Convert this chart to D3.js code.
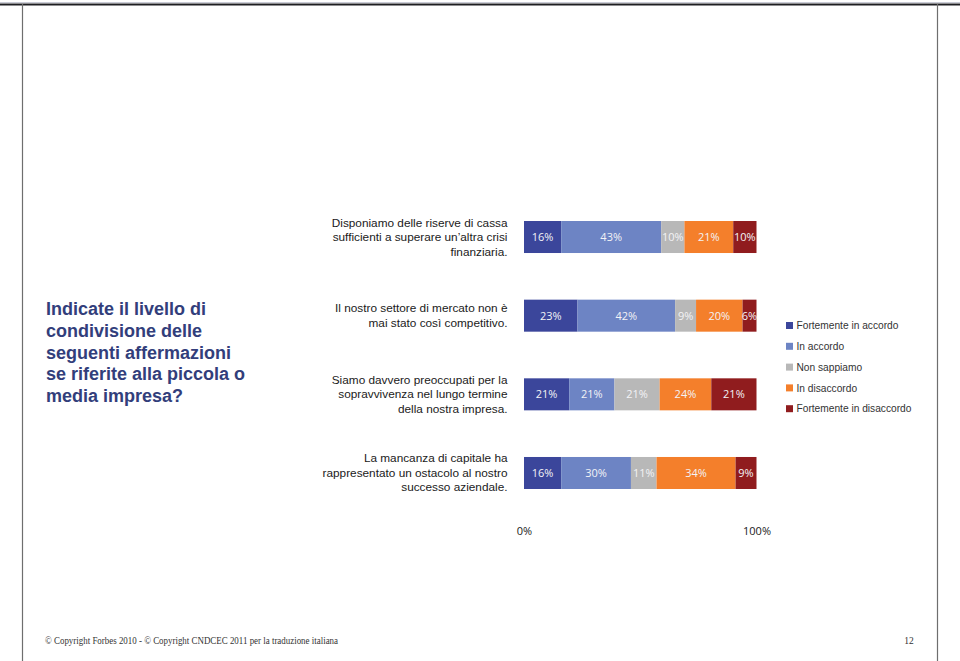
<!DOCTYPE html>
<html>
<head>
<meta charset="utf-8">
<script src="https://cdn.jsdelivr.net/npm/d3@7"></script>
<style>
  html, body { margin: 0; padding: 0; background: #fff; }
  svg { display: block; }
</style>
</head>
<body>
<svg id="chart" width="960" height="661"></svg>
<script>
// ---------- DATA ----------
const categories = [
  "Disponiamo delle riserve di cassa|sufficienti a superare un’altra crisi|finanziaria.",
  "Il nostro settore di mercato non è|mai stato così competitivo.",
  "Siamo davvero preoccupati per la|sopravvivenza nel lungo termine|della nostra impresa.",
  "La mancanza di capitale ha|rappresentato un ostacolo al nostro|successo aziendale."
];
const seriesNames = ["Fortemente in accordo", "In accordo", "Non sappiamo", "In disaccordo", "Fortemente in disaccordo"];
const fortementeInAccordo    = [16, 23, 21, 16];
const inAccordo              = [43, 42, 21, 30];
const nonSappiamo            = [10, 9, 21, 11];
const inDisaccordo           = [21, 20, 24, 34];
const fortementeInDisaccordo = [10, 6, 21, 9];
const axisTickValues = [0, 1];
const axisTickLabels = ["0%", "100%"];
const titleLines = ["Indicate il livello di", "condivisione delle", "seguenti affermazioni", "se riferite alla piccola o", "media impresa?"];
const footerText = "© Copyright Forbes 2010 - © Copyright CNDCEC 2011 per la traduzione italiana";
const pageNumber = "12";

// ---------- STYLE ----------
const colors = ["#3b469b", "#6d84c4", "#b8b8b8", "#f47f2b", "#901c1e"];

const svg = d3.select("#chart");

// page frame
svg.append("line").attr("x1", 0).attr("x2", 960).attr("y1", 2.5).attr("y2", 2.5)
  .attr("stroke", "#c9cbd6").attr("stroke-width", 1);
svg.append("line").attr("x1", 0).attr("x2", 960).attr("y1", 4.5).attr("y2", 4.5)
  .attr("stroke", "#1e1e22").attr("stroke-width", 2);
[22.5, 937.5].forEach(x => {
  svg.append("line").attr("x1", x).attr("x2", x).attr("y1", 4).attr("y2", 661)
    .attr("stroke", "#6e6e6e").attr("stroke-width", 1.2);
});

// build table
const table = categories.map((c, i) => ({
  cat: c,
  [seriesNames[0]]: fortementeInAccordo[i],
  [seriesNames[1]]: inAccordo[i],
  [seriesNames[2]]: nonSappiamo[i],
  [seriesNames[3]]: inDisaccordo[i],
  [seriesNames[4]]: fortementeInDisaccordo[i]
}));

const stack = d3.stack().keys(seriesNames).offset(d3.stackOffsetExpand);
const stacked = stack(table);

const x = d3.scaleLinear().domain([0, 1]).range([524, 756.5]);
const y = d3.scaleBand().domain(categories).range([221, 489]).paddingInner(0.593).paddingOuter(0);
const color = d3.scaleOrdinal().domain(seriesNames).range(colors);

const g = svg.append("g");
const layers = g.selectAll("g.layer").data(stacked).join("g")
  .attr("class", "layer").attr("fill", d => color(d.key));

layers.selectAll("rect").data(d => d.map(p => ({ p, key: d.key }))).join("rect")
  .attr("x", d => x(d.p[0]))
  .attr("width", d => x(d.p[1]) - x(d.p[0]))
  .attr("y", d => y(d.p.data.cat))
  .attr("height", y.bandwidth());

layers.selectAll("text").data(d => d.map(p => ({ p, key: d.key }))).join("text")
  .attr("x", d => (x(d.p[0]) + x(d.p[1])) / 2)
  .attr("y", d => y(d.p.data.cat) + y.bandwidth() / 2 + 4)
  .attr("text-anchor", "middle")
  .attr("font-family", "'Open Sans', sans-serif")
  .attr("font-size", 11)
  .attr("fill", "#f3f3f6")
  .text(d => d.p.data[d.key] + "%");

// category labels
const lineH = 14.5;
categories.forEach(c => {
  const lines = c.split("|");
  const cy = y(c) + y.bandwidth() / 2;
  const t = svg.append("text")
    .attr("text-anchor", "end")
    .attr("font-family", "'Liberation Sans', Arial, sans-serif")
    .attr("font-size", 11.8)
    .attr("fill", "#1a1a1a");
  lines.forEach((l, i) => {
    t.append("tspan").attr("x", 507.5)
      .attr("y", cy + (i - (lines.length - 1) / 2) * lineH + 4)
      .text(l);
  });
});

// axis (labels only)
const axis = d3.axisBottom(x).tickValues(axisTickValues)
  .tickFormat((d, i) => axisTickLabels[i]).tickSize(0).tickPadding(0);
const ax = svg.append("g").attr("transform", "translate(0,527)").call(axis);
ax.select(".domain").remove();
ax.selectAll("text").attr("font-family", "'Open Sans', sans-serif")
  .attr("font-size", 11).attr("fill", "#1a1a1a");

// title
const title = svg.append("text")
  .attr("font-family", "'Liberation Sans', Arial, sans-serif")
  .attr("font-weight", "bold").attr("font-size", 18).attr("fill", "#323e7b");
titleLines.forEach((l, i) => {
  title.append("tspan").attr("x", 46).attr("y", 315 + i * 21.8).text(l);
});

// legend
const legend = svg.append("g");
seriesNames.forEach((s, i) => {
  const cy = 325.5 + i * 20.8;
  legend.append("rect").attr("x", 786).attr("y", cy - 3.5).attr("width", 7).attr("height", 7)
    .attr("fill", color(s));
  legend.append("text").attr("x", 796.5).attr("y", cy + 3.6)
    .attr("font-family", "'Liberation Sans', Arial, sans-serif")
    .attr("font-size", 10.2).attr("fill", "#333").text(s);
});

// footer
svg.append("text").attr("x", 45).attr("y", 643.5)
  .attr("font-family", "'Liberation Serif', serif").attr("font-size", 9.5)
  .attr("fill", "#333").attr("textLength", 293).attr("lengthAdjust", "spacingAndGlyphs")
  .text(footerText);
svg.append("text").attr("x", 909).attr("y", 643.5).attr("text-anchor", "middle")
  .attr("font-family", "'Liberation Serif', serif").attr("font-size", 9.5)
  .attr("fill", "#333").text(pageNumber);
</script>
</body>
</html>
